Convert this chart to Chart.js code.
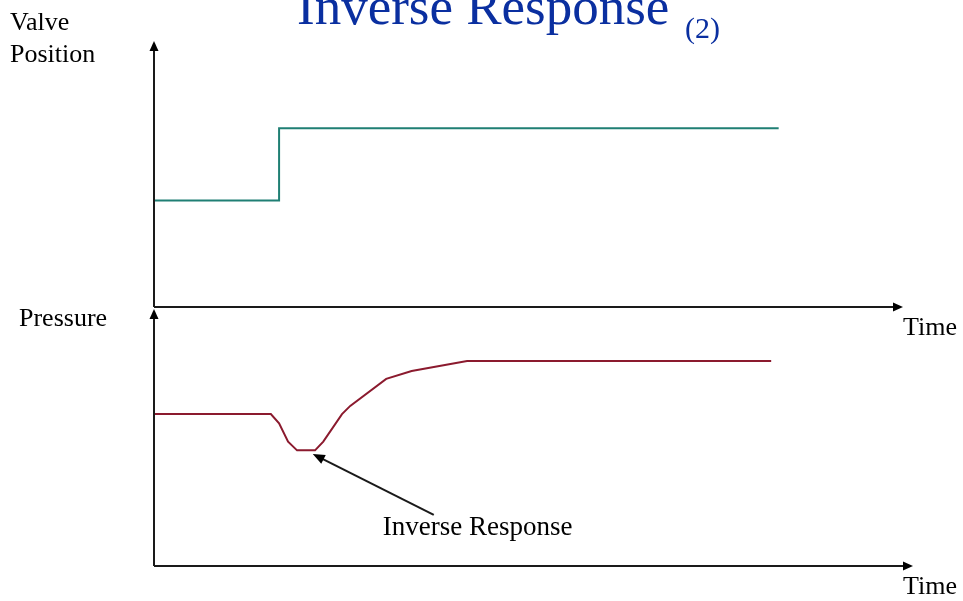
<!DOCTYPE html>
<html>
<head>
<meta charset="utf-8">
<script src="https://cdn.jsdelivr.net/npm/chart.js@4.4.1/dist/chart.umd.min.js"></script>
<style>
  html, body { margin: 0; padding: 0; background: #fff; }
  #wrap { position: relative; width: 963px; height: 601px; overflow: hidden; }
  #wrap canvas { position: absolute; left: 0; top: 0; }
</style>
</head>
<body>
<div id="wrap">
  <canvas id="valve" width="963" height="601"></canvas>
  <canvas id="pressure" width="963" height="601"></canvas>
</div>
<script>
// === Data ===
const valveTime = [0, 16.7, 16.7, 83.4];
const valvePos = [40, 40, 67.2, 67.2];

const pressTime = [0, 15.6, 16.7, 17.9, 19.1, 21.5, 22.6, 25.1, 26.2, 31.0, 34.4, 41.8, 82.4];
const pressVal = [59.1, 59.1, 55.5, 48.4, 45.0, 45.0, 48.4, 59.1, 62.3, 72.8, 75.9, 79.8, 79.8];

const titleText = 'Inverse Response';
const titleSub = '(2)';
const valveLabel = ['Valve', 'Position'];
const pressLabel = 'Pressure';
const timeLabel = 'Time';
const noteText = 'Inverse Response';
const notePoint = { x: 21.2, y: 43.6 };   // where the note arrow points (data units)

const SERIF = "'Liberation Serif', 'Times New Roman', serif";

function toXY(xs, ys) {
  return xs.map((x, i) => ({ x: x, y: ys[i] }));
}

function arrowHead(ctx, x, y, dir, len, half) {
  // dir: angle the arrow points to
  ctx.save();
  ctx.translate(x, y);
  ctx.rotate(dir);
  ctx.beginPath();
  ctx.moveTo(0, 0);
  ctx.lineTo(-len, -half);
  ctx.lineTo(-len, half);
  ctx.closePath();
  ctx.fill();
  ctx.restore();
}

// === Axes with arrows + labels ===
const axesPlugin = {
  id: 'arrowAxes',
  afterDraw(chart, args, opts) {
    const ctx = chart.ctx;
    const a = chart.chartArea;
    ctx.save();
    ctx.strokeStyle = '#1a1a1a';
    ctx.fillStyle = '#000';
    ctx.lineWidth = 2;
    const xEnd = a.right + (opts.extraRight || 0);
    // y axis
    ctx.beginPath();
    ctx.moveTo(a.left, a.bottom);
    ctx.lineTo(a.left, a.top + 8);
    ctx.stroke();
    arrowHead(ctx, a.left, a.top, -Math.PI / 2, 10, 4.5);
    // x axis
    ctx.beginPath();
    ctx.moveTo(a.left, a.bottom);
    ctx.lineTo(xEnd - 8, a.bottom);
    ctx.stroke();
    arrowHead(ctx, xEnd, a.bottom, 0, 10, 4.5);

    ctx.font = '26px ' + SERIF;
    ctx.textBaseline = 'alphabetic';
    ctx.textAlign = 'left';
    ctx.fillText(timeLabel, 903, a.bottom + 28);
    (opts.yLabel || []).forEach((t, i) => {
      ctx.fillText(t, opts.yLabelX, opts.yLabelY + i * 32);
    });

    if (opts.note) {
      const xs = chart.scales.x, ys = chart.scales.y;
      const px = xs.getPixelForValue(notePoint.x);
      const py = ys.getPixelForValue(notePoint.y);
      const tx = px + 70, ty = py + 81;
      const tailX = px + 121, tailY = py + 61;
      const ang = Math.atan2(py - tailY, px - tailX);
      ctx.lineWidth = 2;
      ctx.beginPath();
      ctx.moveTo(tailX, tailY);
      ctx.lineTo(px - 8 * Math.cos(ang), py - 8 * Math.sin(ang));
      ctx.stroke();
      arrowHead(ctx, px, py, ang, 12, 5);
      ctx.font = '27px ' + SERIF;
      ctx.fillText(noteText, tx, ty);
    }

    if (opts.title) {
      ctx.fillStyle = '#0a2fa0';
      ctx.font = '53px ' + SERIF;
      ctx.fillText(titleText, 297, 24);
      ctx.font = '30px ' + SERIF;
      ctx.fillText(titleSub, 685, 38);
    }
    ctx.restore();
  }
};

function makeChart(id, points, color, yMax, padding, pluginOpts) {
  return new Chart(document.getElementById(id), {
    type: 'line',
    data: {
      datasets: [{
        data: points,
        borderColor: color,
        borderWidth: 2,
        pointRadius: 0,
        tension: 0,
        fill: false
      }]
    },
    options: {
      responsive: false,
      animation: false,
      layout: { padding: padding },
      scales: {
        x: { type: 'linear', min: 0, max: 100, display: false },
        y: { type: 'linear', min: 0, max: yMax, display: false }
      },
      plugins: {
        legend: { display: false },
        tooltip: { enabled: false },
        arrowAxes: pluginOpts
      }
    },
    plugins: [axesPlugin]
  });
}

makeChart('valve', toXY(valveTime, valvePos), '#1f7f74', 100,
  { left: 154, top: 41, right: 60, bottom: 294 },
  { yLabel: valveLabel, yLabelX: 10, yLabelY: 30, title: true, extraRight: 0 });

makeChart('pressure', toXY(pressTime, pressVal), '#8b1a2e', 100,
  { left: 154, top: 309, right: 60, bottom: 35 },
  { yLabel: [pressLabel], yLabelX: 19, yLabelY: 326, note: true, extraRight: 10 });
</script>
</body>
</html>
